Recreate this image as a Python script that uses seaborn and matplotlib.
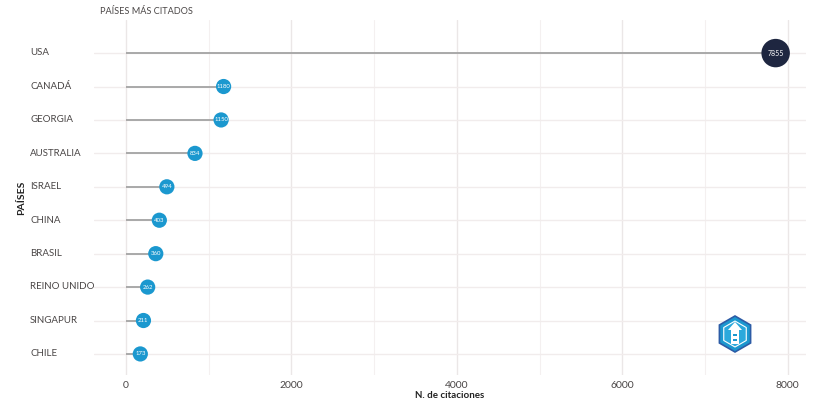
import matplotlib
matplotlib.use("Agg")
import matplotlib.pyplot as plt
import matplotlib.patches as mpatches
import matplotlib.transforms as mtransforms
import seaborn as sns
import pandas as pd

# --- datos ---
paises = ["USA", "CANADÁ", "GEORGIA", "AUSTRALIA", "ISRAEL",
          "CHINA", "BRASIL", "REINO UNIDO", "SINGAPUR", "CHILE"]
citaciones = [7855, 1180, 1150, 834, 494, 403, 360, 262, 211, 173]

df = pd.DataFrame({"pais": paises, "citas": citaciones})
df["pos"] = range(len(df))

sns.set_theme(style="whitegrid")
plt.rcParams["font.family"] = ["Lato", "DejaVu Sans"]

texto = "#4a4646"
fig = plt.figure(figsize=(8.37, 4.03), dpi=100)
ax = fig.add_axes([94 / 837, 1 - 375 / 403, (806 - 94) / 837, (375 - 20) / 403])
ax.set_facecolor("white")

# segmentos
ax.hlines(df["pos"], 0, df["citas"], color="#a3a3a3", lw=1.3, zorder=2)

# puntos
otros = df[df["pais"] != "USA"]
usa = df[df["pais"] == "USA"]
sns.scatterplot(data=otros, x="citas", y="pos", ax=ax, s=120, color="#1b98cf",
                edgecolor="none", zorder=3, legend=False)
sns.scatterplot(data=usa, x="citas", y="pos", ax=ax, s=420, color="#1e2640",
                edgecolor="none", zorder=3, legend=False)

for _, r in df.iterrows():
    ax.text(r["citas"], r["pos"], str(r["citas"]), color="white",
            fontsize=5 if r["pais"] == "USA" else 4.3,
            ha="center", va="center", zorder=4)

ax.set_xlim(-387, 8222)
ax.set_ylim(9.63, -0.99)
ax.set_xticks([0, 2000, 4000, 6000, 8000])
ax.set_xticks([1000, 3000, 5000, 7000], minor=True)
ax.set_yticks(df["pos"])
ax.set_yticklabels(paises)

ax.grid(axis="x", which="major", color="#ebe7e7", lw=1.0)
ax.grid(axis="x", which="minor", color="#f4f0f0", lw=0.8)
ax.grid(axis="y", which="major", color="#f1ecec", lw=1.0)
for s in ax.spines.values():
    s.set_visible(False)

ax.tick_params(axis="x", length=0, labelsize=7.5, labelcolor=texto, pad=4)
ax.tick_params(axis="y", length=0, labelsize=7, labelcolor=texto, pad=46)
desplaza = mtransforms.ScaledTranslation(0, 1.2 / 100, fig.dpi_scale_trans)
for lab in ax.get_yticklabels():
    lab.set_ha("left")
    lab.set_transform(lab.get_transform() + desplaza)

ax.set_xlabel("N. de citaciones", fontsize=7, fontweight="bold", color="#222222", labelpad=1)
ax.set_ylabel("PAÍSES", fontsize=7.5, fontweight="bold", color="#222222")
ax.yaxis.set_label_coords(-68 / 712, 0.5)

fig.text(100 / 837, 1 - 12 / 403, "PAÍSES MÁS CITADOS", fontsize=6.6, color=texto,
         ha="left", va="center")

# logo
logo_ax = fig.add_axes([0, 0, 1, 1], facecolor="none")
logo_ax.set_xlim(0, 837)
logo_ax.set_ylim(0, 403)
logo_ax.axis("off")
logo_ax.add_patch(mpatches.RegularPolygon((735, 403 - 334), numVertices=6, radius=18,
                                          facecolor="#1b98cf", edgecolor="#2d5ca6", lw=1.2))
logo_ax.add_patch(mpatches.RegularPolygon((735, 403 - 334), numVertices=6, radius=13,
                                          facecolor="#2aa9dc", edgecolor="white", lw=0.8))
logo_ax.add_patch(mpatches.Rectangle((731, 403 - 344), 8, 14, facecolor="white", edgecolor="none"))
logo_ax.add_patch(mpatches.Polygon([[728, 403 - 330], [742, 403 - 330], [735, 403 - 322]],
                                   facecolor="white", edgecolor="none"))
logo_ax.add_patch(mpatches.Rectangle((733, 403 - 341), 4, 2, facecolor="#1b98cf", edgecolor="none"))
logo_ax.add_patch(mpatches.Rectangle((733, 403 - 336), 4, 2, facecolor="#1b98cf", edgecolor="none"))

fig.savefig("out.png", dpi=100, facecolor="white")
